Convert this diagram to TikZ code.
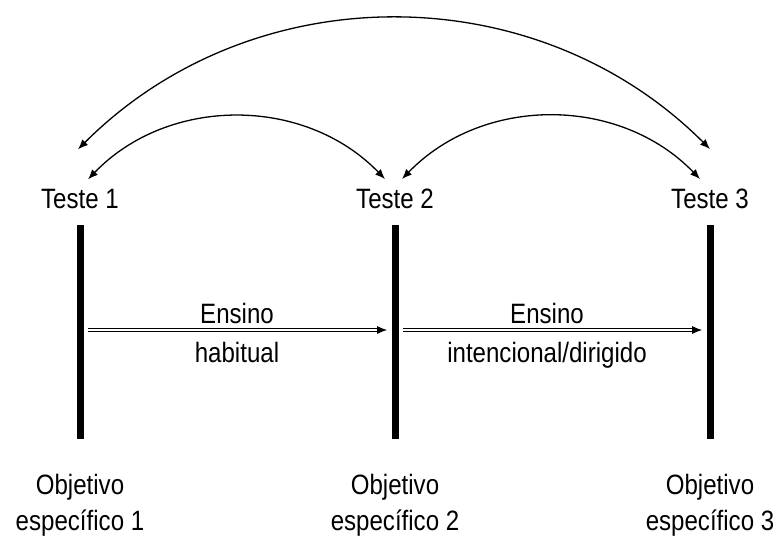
\documentclass[tikz,border=0pt]{standalone}
\usepackage{fontspec}
\setmainfont{Liberation Sans}[FakeStretch=0.86]
\usetikzlibrary{arrows.meta}
\tikzset{
  lbl/.style={inner sep=0pt, font=\fontsize{14}{17}\selectfont},
  teste/.style={lbl, inner ysep=4.5pt},
  bar/.style={fill=black, inner sep=0pt, minimum width=3.5pt, minimum height=107pt},
  arc/.style={line width=0.65pt, {Latex[length=5pt,width=4pt]}-{Latex[length=5pt,width=4pt]}},
  flow/.style={double, double distance=0.8pt, line width=0.45pt, -{Latex[length=5pt,width=4pt]},
    shorten <=2pt, shorten >=2pt}
}
\begin{document}
\begin{tikzpicture}[x=0.5pt,y=0.5pt]
  \useasboundingbox (0,0) rectangle (779,-536);
  % tests
  \node[teste, anchor=base] (t1) at (80,-208) {Teste 1};
  \node[teste, anchor=base] (t2) at (395,-208) {Teste 2};
  \node[teste, anchor=base] (t3) at (710,-208) {Teste 3};
  % bars
  \node[bar] (b1) at (80.5,-332) {};
  \node[bar] (b2) at (395,-332) {};
  \node[bar] (b3) at (710,-332) {};
  % arcs between tests
  \draw[arc] ([xshift=4pt]t1.north) to[bend left=46] ([xshift=-5pt]t2.north);
  \draw[arc] ([xshift=3.5pt]t2.north) to[bend left=46] ([xshift=-5pt]t3.north);
  \draw[arc] ([xshift=-1pt,yshift=15pt]t1.north) to[bend left=45] ([yshift=15pt]t3.north);
  % teaching
  \draw[flow] ([yshift=1pt]b1.east) -- ([yshift=1pt]b2.west);
  \draw[flow] ([yshift=1pt]b2.east) -- ([yshift=1pt]b3.west);
  \node[lbl, anchor=base] (en1) at (237,-323) {Ensino};
  \node[lbl, anchor=base] (hab) at (237,-362) {habitual};
  \node[lbl, anchor=base] (en2) at (547,-323) {Ensino};
  \node[lbl, anchor=base] (dir) at (547,-362) {intencional/dirigido};
  % objectives
  \node[lbl, anchor=base] (ob1) at (80,-494) {Objetivo};
  \node[lbl, anchor=base] (es1) at (80,-530) {específico 1};
  \node[lbl, anchor=base] (ob2) at (395,-494) {Objetivo};
  \node[lbl, anchor=base] (es2) at (395,-530) {específico 2};
  \node[lbl, anchor=base] (ob3) at (710,-494) {Objetivo};
  \node[lbl, anchor=base] (es3) at (710,-530) {específico 3};
\end{tikzpicture}
\end{document}
